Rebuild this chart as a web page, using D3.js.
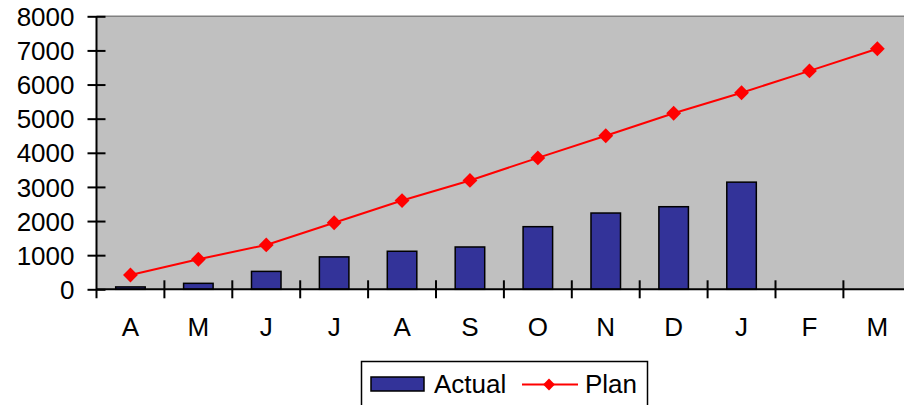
<!DOCTYPE html>
<html>
<head>
<meta charset="utf-8">
<script src="https://cdn.jsdelivr.net/npm/d3@7"></script>
<style>
  html, body { margin: 0; padding: 0; background: #fff; }
  svg { display: block; font-family: "Liberation Sans", Arial, sans-serif; }
</style>
</head>
<body>
<svg id="chart" width="904" height="405"></svg>
<script>
// Month initials along the category axis (fiscal year April..March)
const months = ["A", "M", "J", "J", "A", "S", "O", "N", "D", "J", "F", "M"];
// Cumulative actual values (only reported through January)
const actual = [70, 175, 525, 950, 1115, 1240, 1835, 2235, 2420, 3140];
// Cumulative plan values for every month
const plan = [420, 880, 1300, 1950, 2600, 3190, 3850, 4500, 5160, 5760, 6400, 7050];
// Value axis tick labels
const yTicks = [0, 1000, 2000, 3000, 4000, 5000, 6000, 7000, 8000];

const svg = d3.select("#chart");
const plotL = 96.5, plotR = 911.3, plotT = 16.3, plotB = 289.3;
const fontSize = 26;

const idx = months.map((_, i) => i);
const x = d3.scaleBand().domain(idx).range([plotL, plotR]).padding(0);
const step = x.step();
const barW = step / 2.3;
const y = d3.scaleLinear().domain([0, 8000]).range([plotB, plotT]);

// Plot area background
svg.append("rect")
  .attr("x", plotL).attr("y", plotT)
  .attr("width", plotR - plotL).attr("height", plotB - plotT)
  .attr("fill", "#c0c0c0");
svg.append("line")
  .attr("x1", plotL).attr("x2", plotR)
  .attr("y1", plotT).attr("y2", plotT)
  .attr("stroke", "#808080").attr("stroke-width", 1.5);

// Bars for actual values
svg.append("g").selectAll("rect")
  .data(actual)
  .join("rect")
  .attr("x", (d, i) => x(i) + (step - barW) / 2)
  .attr("y", d => y(d))
  .attr("width", barW)
  .attr("height", d => y(0) - y(d))
  .attr("fill", "#333399")
  .attr("stroke", "#000")
  .attr("stroke-width", 1.5);

// Value axis
const yAxis = svg.append("g")
  .attr("transform", `translate(${plotL},0)`)
  .call(d3.axisLeft(y).tickValues(yTicks).tickSize(9).tickPadding(13).tickFormat(d3.format("d")));
yAxis.select(".domain").attr("stroke", "#000").attr("stroke-width", 2).attr("d", `M0,${plotT}V${plotB + 9}`);
yAxis.selectAll(".tick line").attr("x1", -9).attr("x2", 9).attr("stroke", "#000").attr("stroke-width", 2);
yAxis.selectAll(".tick text").attr("font-size", fontSize).attr("fill", "#000")
  .attr("font-family", "Liberation Sans, Arial, sans-serif").attr("dy", "0.35em");

// Category axis: ticks between months, labels centered in each month
const xAxis = svg.append("g")
  .attr("transform", `translate(0,${plotB})`)
  .call(d3.axisBottom(x).tickSize(0).tickPadding(28).tickFormat(i => months[i]));
xAxis.select(".domain").attr("stroke", "#000").attr("stroke-width", 2).attr("d", `M${plotL},0H${plotR}`);
xAxis.selectAll(".tick text").attr("font-size", fontSize).attr("fill", "#000")
  .attr("font-family", "Liberation Sans, Arial, sans-serif");
xAxis.selectAll(".bound")
  .data(d3.range(1, months.length + 1))
  .join("line")
  .attr("class", "bound")
  .attr("x1", i => plotL + i * step).attr("x2", i => plotL + i * step)
  .attr("y1", -9).attr("y2", 9)
  .attr("stroke", "#000").attr("stroke-width", 2);

// Plan line with diamond markers
const line = d3.line().x((d, i) => x(i) + step / 2).y(d => y(d));
svg.append("path")
  .datum(plan)
  .attr("d", line)
  .attr("fill", "none")
  .attr("stroke", "#ff0000")
  .attr("stroke-width", 2);
const diamond = d3.symbol().type(d3.symbolSquare).size(110);
svg.append("g").selectAll("path")
  .data(plan)
  .join("path")
  .attr("d", diamond)
  .attr("transform", (d, i) => `translate(${x(i) + step / 2},${y(d)}) rotate(45)`)
  .attr("fill", "#ff0000");

// Legend
const lg = svg.append("g");
lg.append("rect")
  .attr("x", 361.5).attr("y", 361.5).attr("width", 286).attr("height", 60)
  .attr("fill", "#fff").attr("stroke", "#000").attr("stroke-width", 1.5);
lg.append("rect")
  .attr("x", 371).attr("y", 377).attr("width", 53).attr("height", 14)
  .attr("fill", "#333399").attr("stroke", "#000").attr("stroke-width", 1.5);
lg.append("text").attr("x", 434).attr("y", 392.5)
  .attr("font-size", fontSize).text("Actual");
lg.append("line")
  .attr("x1", 522).attr("x2", 578).attr("y1", 384.5).attr("y2", 384.5)
  .attr("stroke", "#ff0000").attr("stroke-width", 2);
lg.append("path")
  .attr("d", d3.symbol().type(d3.symbolSquare).size(70))
  .attr("transform", "translate(549,384.5) rotate(45)")
  .attr("fill", "#ff0000");
lg.append("text").attr("x", 585).attr("y", 392.5)
  .attr("font-size", fontSize).text("Plan");
</script>
</body>
</html>
